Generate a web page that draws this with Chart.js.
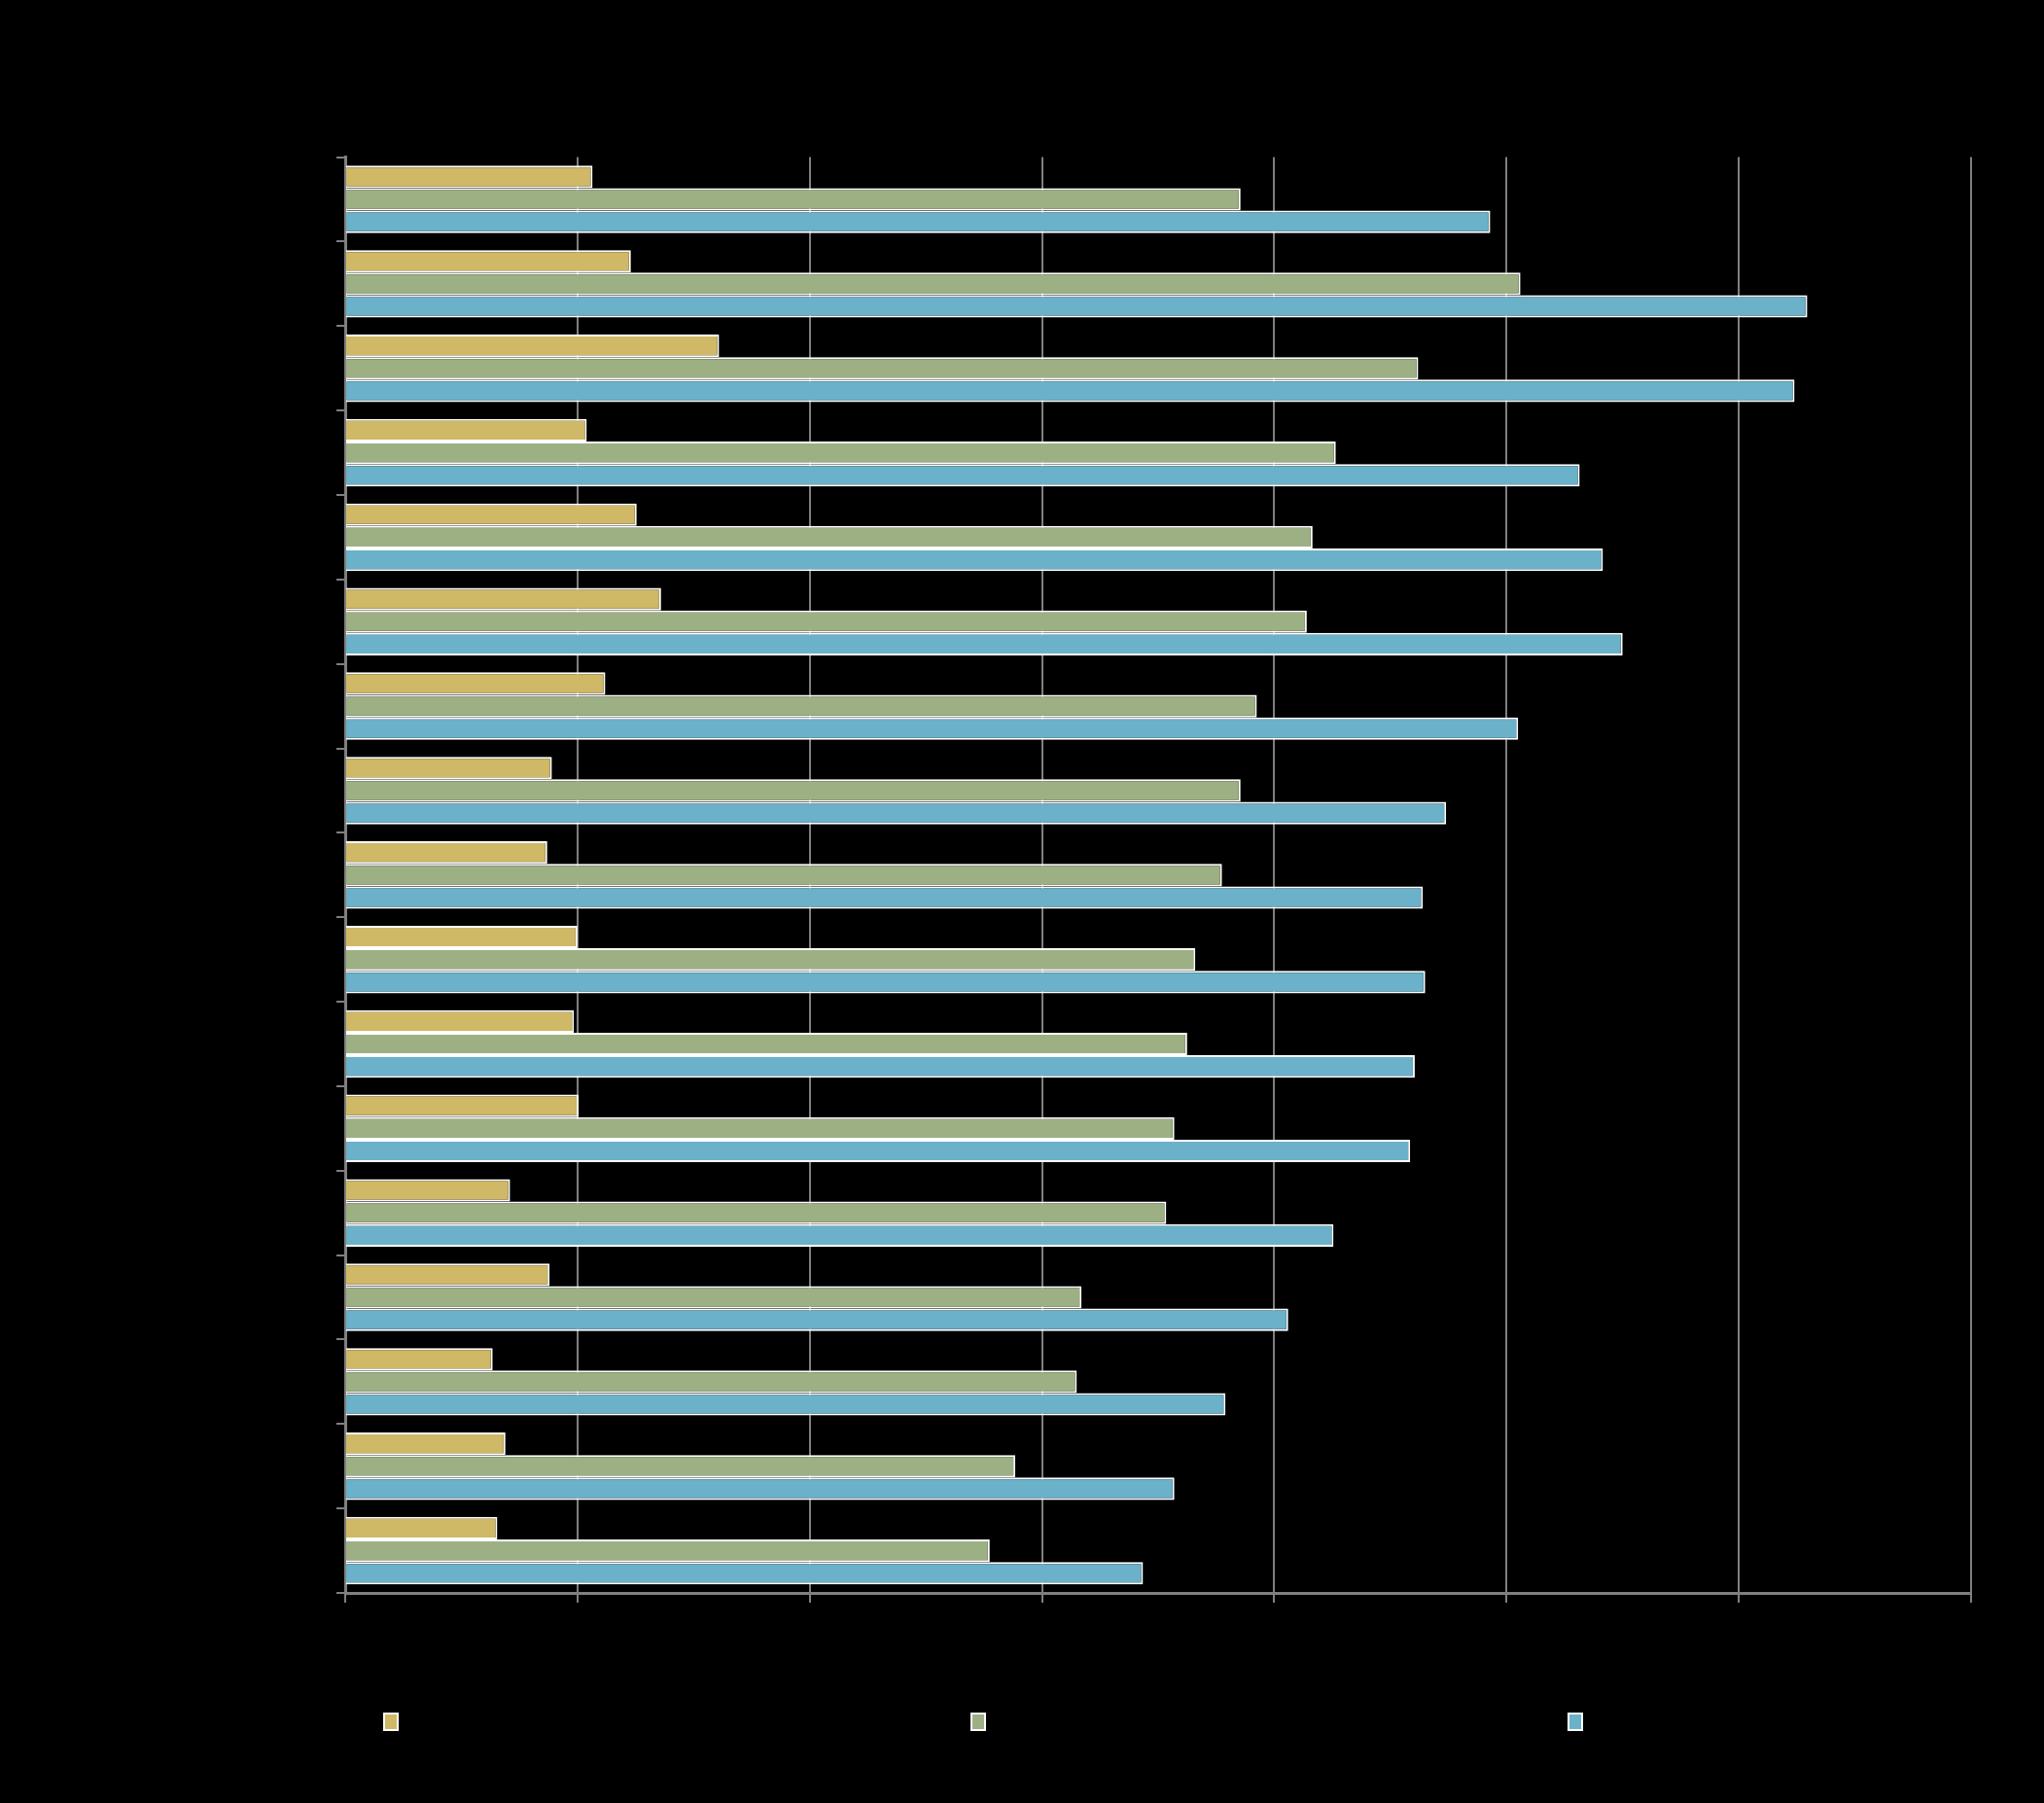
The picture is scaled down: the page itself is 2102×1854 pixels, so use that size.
<!DOCTYPE html>
<html>
<head>
<meta charset="utf-8">
<title>Podmioty gospodarki narodowej w rejestrze REGON</title>
<script src="https://cdn.jsdelivr.net/npm/chart.js@4/dist/chart.umd.min.js"></script>
<style>
  html, body { margin: 0; padding: 0; background: #000; }
  #wrap { width: 2102px; height: 1854px; }
</style>
</head>
<body>
<div id="wrap"><canvas id="regonChart" width="2102" height="1854"></canvas></div>
<script>
// Podmioty na 10 tys. ludności, 2008 r.
const regions = [
    'POLSKA', 'zachodniopomorskie', 'mazowieckie', 'wielkopolskie', 'pomorskie',
    'dolnośląskie', 'lubuskie', 'łódzkie', 'kujawsko-pomorskie', 'opolskie',
    'śląskie', 'małopolskie', 'świętokrzyskie', 'warmińsko-mazurskie',
    'podlaskie', 'lubelskie', 'podkarpackie'
];
const osobyPrawne = [213, 246, 322, 208, 251, 272, 224, 178, 174, 200, 197, 201, 142, 176, 127, 138, 131];
const osobyFizyczne = [771, 1012, 924, 853, 833, 828, 785, 771, 755, 732, 725, 714, 707, 634, 630, 577, 555];
const ogolem = [986, 1259, 1248, 1063, 1083, 1100, 1010, 948, 928, 930, 921, 917, 851, 812, 758, 714, 687];

const seriesLabels = [
    ['Osoby prawne i jednostki organizacyjne', 'niemające osobowości prawnej'],
    ['Osoby fizyczne prowadzące działalność', 'gospodarczą'],
    ['Ogółem']
];
const seriesColors = ['#CFB866', '#9DB083', '#6AB1C9'];
const xTicks = [0, 200, 400, 600, 800, 1000, 1200, 1400];

const gridGray = '#7f7f7f';
const narrowFont = 'Liberation Sans Narrow, Liberation Sans, sans-serif';

// tło całego płótna na czarno
const blackBackground = {
    id: 'blackBackground',
    beforeDraw(chart) {
        const c = chart.ctx;
        c.save();
        c.fillStyle = '#000';
        c.fillRect(0, 0, chart.width, chart.height);
        c.restore();
    }
};

// legenda z dwuwierszowymi opisami, jak w oryginale
const wrappedLegend = {
    id: 'wrappedLegend',
    afterDraw(chart) {
        const c = chart.ctx;
        const slots = [395, 999, 1613];
        const top = 1762;
        c.save();
        c.font = '26px ' + narrowFont;
        c.textBaseline = 'middle';
        c.textAlign = 'left';
        chart.data.datasets.forEach((ds, i) => {
            const x = slots[i];
            c.fillStyle = ds.backgroundColor;
            c.fillRect(x, top, 14, 17);
            c.strokeStyle = '#ffffff';
            c.lineWidth = 2;
            c.strokeRect(x, top, 14, 17);
            c.fillStyle = '#000';
            const lines = Array.isArray(ds.label) ? ds.label : [ds.label];
            lines.forEach((line, j) => {
                c.fillText(line, x + 20, top + 9 + j * 36);
            });
        });
        c.restore();
    }
};

Chart.defaults.color = '#000';
Chart.defaults.font.family = 'Liberation Sans, Arial, sans-serif';

const ctx = document.getElementById('regonChart').getContext('2d');
new Chart(ctx, {
    type: 'bar',
    data: {
        labels: regions,
        datasets: [
            { label: seriesLabels[0], data: osobyPrawne, backgroundColor: seriesColors[0] },
            { label: seriesLabels[1], data: osobyFizyczne, backgroundColor: seriesColors[1] },
            { label: seriesLabels[2], data: ogolem, backgroundColor: seriesColors[2] }
        ]
    },
    options: {
        indexAxis: 'y',
        responsive: false,
        animation: false,
        datasets: {
            bar: {
                categoryPercentage: 0.8,
                barPercentage: 1.0,
                borderColor: '#ffffff',
                borderWidth: 2
            }
        },
        layout: {
            padding: { left: 0, right: 75, top: 0, bottom: 96 }
        },
        plugins: {
            title: {
                display: true,
                text: ['Podmioty gospodarki narodowej w rejestrze REGON', 'na 10 tys. ludności w 2008 r'],
                color: '#000',
                font: { family: narrowFont, size: 32, weight: 'bold', lineHeight: 1.4 },
                padding: { top: 30, bottom: 42 }
            },
            legend: { display: false },
            tooltip: { enabled: false }
        },
        scales: {
            x: {
                min: 0,
                max: 1400,
                afterBuildTicks(scale) {
                    scale.ticks = xTicks.map(v => ({ value: v }));
                },
                afterFit(scale) {
                    scale.height = 120;
                },
                grid: {
                    color: gridGray,
                    lineWidth: 2,
                    tickLength: 10,
                    drawTicks: true
                },
                border: { color: gridGray, width: 3 },
                ticks: {
                    color: '#000',
                    padding: 26,
                    font: { family: narrowFont, size: 24 }
                }
            },
            y: {
                afterFit(scale) {
                    scale.width = 355;
                },
                grid: {
                    display: true,
                    drawOnChartArea: false,
                    offset: true,
                    color: gridGray,
                    lineWidth: 2,
                    tickLength: 9
                },
                border: { color: gridGray, width: 3 },
                ticks: {
                    color: '#000',
                    padding: 18,
                    autoSkip: false,
                    font: { size: 27 }
                }
            }
        }
    },
    plugins: [blackBackground, wrappedLegend]
});
</script>
</body>
</html>
